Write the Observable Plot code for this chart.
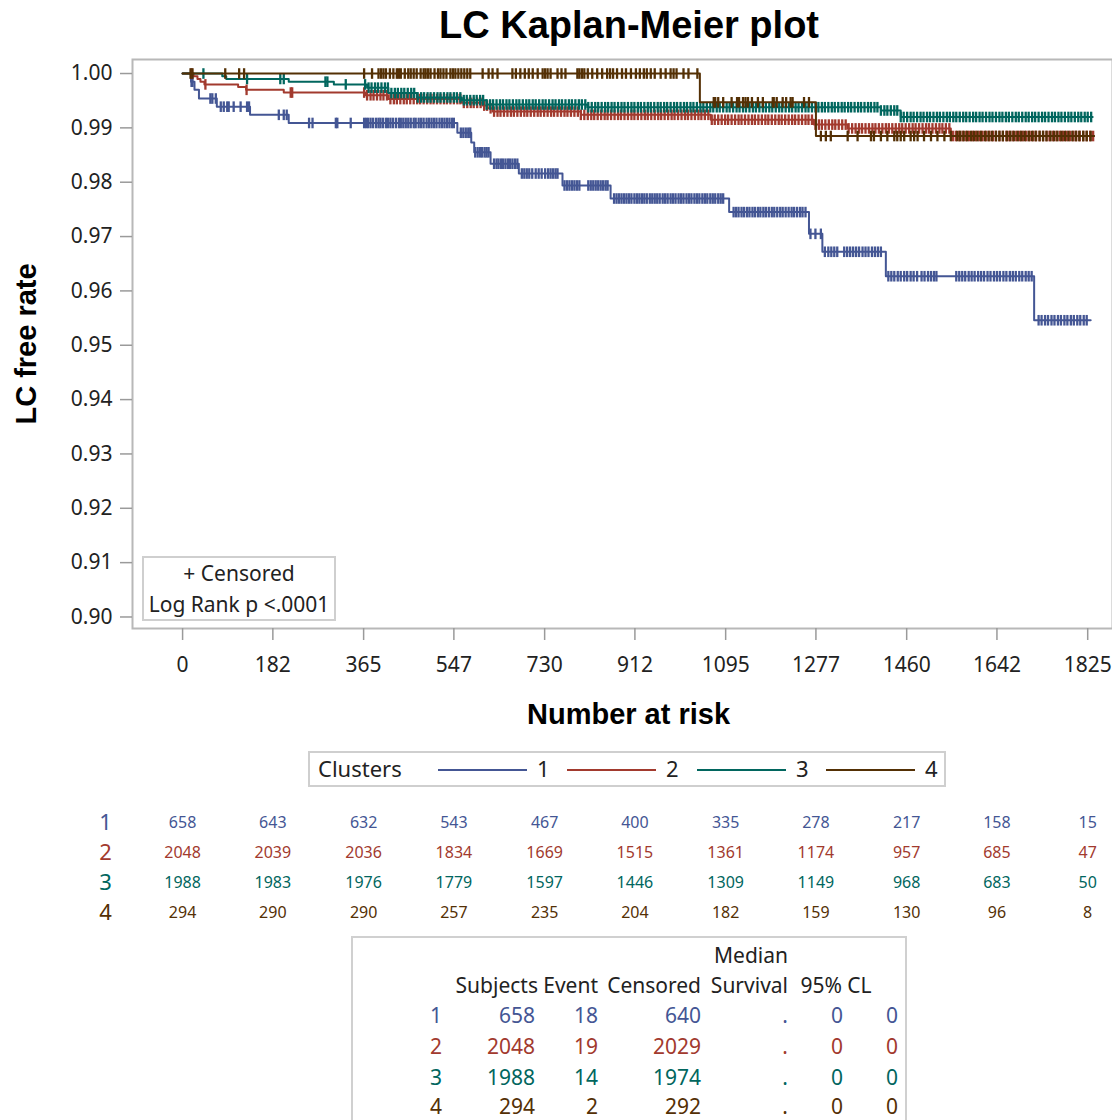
<!DOCTYPE html>
<html><head><meta charset="utf-8">
<script src="https://cdn.jsdelivr.net/npm/d3@7"></script>
<script src="https://cdn.jsdelivr.net/npm/@observablehq/plot@0.6"></script>
<style>
html,body{margin:0;padding:0;background:#fff;overflow:hidden;}
#root{position:relative;width:1112px;height:1120px;overflow:hidden;font-family:"Noto Sans",sans-serif;color:#222;}
.abs{position:absolute;white-space:nowrap;}
#root svg{max-width:none !important;}
</style></head><body><div id="root"></div>
<script>
// ---------- data ----------
const clusters = ["1","2","3","4"];
const colors = ["#445694","#A23A2E","#01665E","#543005"];
const xTicks = [0,182,365,547,730,912,1095,1277,1460,1642,1825];
const yTicks = [0.90,0.91,0.92,0.93,0.94,0.95,0.96,0.97,0.98,0.99,1.00];

// Kaplan-Meier steps [day, survival]; last entry = end of follow-up
const steps1 = [[0,1],[17,0.9985],[24,0.9970],[33,0.9954],[69,0.9939],[136,0.9924],[214,0.9909],[554,0.9891],[582,0.9873],[588,0.9855],[621,0.9834],[678,0.9816],[766,0.9794],[863,0.9770],[1102,0.9745],[1263,0.9705],[1290,0.9672],[1418,0.9627],[1717,0.9546],[1831,0.9546]];
const steps2 = [[0,1],[22,0.9995],[30,0.9990],[36,0.9985],[44,0.9980],[112,0.9975],[128,0.9970],[204,0.9965],[368,0.9960],[415,0.9953],[563,0.9946],[605,0.9941],[615,0.9936],[625,0.9930],[803,0.9924],[1065,0.9915],[1273,0.9906],[1341,0.9899],[1549,0.9885],[1837,0.9885]];
const steps3 = [[0,1],[80,0.9995],[88,0.9990],[214,0.9985],[305,0.9980],[372,0.9974],[415,0.9964],[473,0.9956],[563,0.9951],[613,0.9943],[816,0.9938],[1408,0.9932],[1448,0.9920],[1835,0.9920]];
const steps4 = [[0,1],[1043,0.9947],[1277,0.9885],[1838,0.9885]];

// censoring times (days)
const censor1 = [18,20,56,60,67,77,83,90,93,103,117,130,134,194,204,210,255,262,309,312,339,
366,370,374,379,384,390,395,399,404,410,414,419,424,430,436,440,445,450,455,460,466,470,476,481,486,492,497,502,507,512,518,523,528,533,538,543,547,
561,566,571,576,580,590,595,600,604,609,613,617,628,633,637,642,646,651,656,660,665,670,675,684,689,694,699,
705,712,718,724,731,737,742,747,752,756,770,775,780,785,790,795,800,818,823,828,833,838,843,848,853,857,
870,875,880,885,890,895,900,905,911,916,921,926,931,936,942,947,952,957,962,968,973,978,984,989,994,1000,1005,1010,1016,1021,1026,1032,1037,1042,1048,1053,1058,1064,1069,1074,1080,1085,1090,
1111,1116,1121,1127,1132,1138,1143,1149,1154,1160,1165,1171,1176,1182,1188,1193,1199,1205,1210,1216,1222,1228,1233,1239,1245,1250,1256,
1266,1276,1287,1295,1302,1308,1314,1320,1334,1340,1346,1352,1358,1364,1371,1377,1383,1390,1396,1402,1408,
1423,1429,1435,1442,1448,1455,1461,1468,1474,1481,1490,1496,1503,1509,1515,1520,
1560,1566,1572,1578,1585,1591,1597,1604,1610,1616,1623,1629,1636,1642,1648,1655,1661,1668,1674,1680,1687,1693,1700,1706,1712,
1726,1732,1739,1745,1752,1758,1765,1771,1778,1784,1791,1797,1804,1810,1817,1823];
const censor2 = [18,46,129,218,221,
366,372,379,385,392,399,405,412,419,426,432,439,446,452,459,466,473,479,486,493,500,506,513,520,527,533,540,547,554,560,567,574,581,587,594,601,608,614,621,628,635,641,648,655,662,668,675,682,689,695,702,709,716,722,729,736,743,749,756,763,770,776,783,790,797,803,810,817,824,830,837,844,851,857,864,871,878,884,891,898,905,911,918,925,932,938,945,952,959,965,972,979,986,992,999,1006,1013,1019,1026,1033,1040,1046,1053,1060,1067,1073,1080,1087,1094,1100,1107,1114,1121,1127,1134,1141,1148,1154,1161,1168,1175,1181,1188,1195,1202,1208,1215,1222,1229,1235,1242,1249,1256,1262,1269,1276,1283,1289,1296,1303,1310,1316,1323,1330,1337,1343,1350,1357,1364,1370,1377,1384,1391,1397,1404,1411,1418,1424,1431,1438,1445,1451,1458,1465,1472,1478,1485,1492,1499,1505,1512,1519,1526,1532,1539,1546,1553,1559,1566,1573,1580,1586,1593,1600,1607,1613,1620,1627,1634,1640,1647,1654,1661,1667,1674,1681,1688,1694,1701,1708,1715,1721,1728,1735,1742,1748,1755,1762,1769,1775,1782,1789,1796,1802,1809,1816,1823,1830,1836];
const censor3 = [42,130,197,204,288,292,329,
368,375,381,388,394,401,408,414,421,428,434,441,447,454,461,467,474,481,487,494,500,507,514,520,527,534,540,547,553,560,567,573,580,587,593,600,606,613,620,626,633,640,646,653,659,666,673,679,686,693,699,706,712,719,726,732,739,746,752,759,765,772,779,785,792,799,805,812,818,825,832,838,845,852,858,865,871,878,885,891,898,905,911,918,924,931,938,944,951,958,964,971,977,984,991,997,1004,1011,1017,1024,1030,1037,1044,1050,1057,1064,1070,1077,1083,1090,1097,1103,1110,1117,1123,1130,1136,1143,1150,1156,1163,1170,1176,1183,1189,1196,1203,1209,1216,1223,1229,1236,1242,1249,1256,1262,1269,1276,1282,1289,1295,1302,1309,1315,1322,1329,1335,1342,1348,1355,1362,1368,1375,1382,1388,1395,1401,1408,1415,1421,1428,1435,1441,1448,1454,1461,1468,1474,1481,1488,1494,1501,1507,1514,1521,1527,1534,1541,1547,1554,1560,1567,1574,1580,1587,1594,1600,1607,1613,1620,1627,1633,1640,1647,1653,1660,1666,1673,1680,1686,1693,1700,1706,1713,1719,1726,1733,1739,1746,1753,1759,1766,1772,1779,1786,1792,1799,1806,1812,1819,1825,1832];
const censor4 = [16,20,86,114,124,
366,382,395,400,405,410,418,425,432,436,440,448,455,460,466,472,480,486,490,495,500,508,515,520,526,532,540,545,550,556,562,568,574,580,605,617,625,635,665,672,681,690,698,706,716,726,731,736,742,756,764,772,796,800,805,810,817,826,836,846,856,862,868,876,886,894,904,914,922,930,936,944,952,964,974,984,990,996,1010,1020,1038,
1071,1074,1080,1090,1107,1118,1122,1130,1135,1140,1148,1160,1170,1190,1192,1198,1210,1217,1226,1230,1253,1263,
1287,1297,1307,1341,1361,1388,1394,1408,1421,1435,1441,1448,1455,1468,1475,1482,1495,1509,1522,1536,1549,
1562,1568,1575,1582,1590,1596,1603,1610,1618,1625,1632,1640,1647,1654,1662,1669,1676,1684,1691,1698,1706,1713,1720,1728,1735,1742,1750,1757,1764,1772,1779,1786,1794,1801,1808,1816,1823,1831];

// number at risk at xTicks
const atRisk1 = [658,643,632,543,467,400,335,278,217,158,15];
const atRisk2 = [2048,2039,2036,1834,1669,1515,1361,1174,957,685,47];
const atRisk3 = [1988,1983,1976,1779,1597,1446,1309,1149,968,683,50];
const atRisk4 = [294,290,290,257,235,204,182,159,130,96,8];

// summary table
const subjects = [658,2048,1988,294];
const events = [18,19,14,2];
const censoredN = [640,2029,1974,292];
const medianSurv = [".",".",".","."];
const clLower = [0,0,0,0];
const clUpper = [0,0,0,0];

// ---------- build ----------
const steps = [steps1,steps2,steps3,steps4];
const censors = [censor1,censor2,censor3,censor4];
const atRisk = [atRisk1,atRisk2,atRisk3,atRisk4];
const survAt = (st, t) => { let v = st[0][1]; for (const [tt, s] of st) { if (tt <= t) v = s; else break; } return v; };

const stepRows = clusters.map((c,i) => steps[i].map(([t,s]) => ({cluster:c, t, s})));
const censorRows = clusters.map((c,i) => censors[i].map(t => ({cluster:c, t, s: survAt(steps[i], t)})));
const riskRows = clusters.flatMap((c,i) => xTicks.map((t,j) => ({cluster:c, t, n: atRisk[i][j]})));

const vtick = {draw(ctx, size){ const r = Math.sqrt(size/Math.PI); ctx.moveTo(0,-r); ctx.lineTo(0,r); }};
const X_DOMAIN = [-101, 1875];
const Y_DOMAIN = [0.89788, 1.00258];
const colorScale = {domain: clusters, range: colors};

const root = document.getElementById("root");

const main = Plot.plot({
  width: 1120, height: 735,
  marginLeft: 132, marginRight: 8, marginTop: 59, marginBottom: 107,
  x: {domain: X_DOMAIN},
  y: {domain: Y_DOMAIN},
  color: colorScale,
  style: {fontFamily: "'Noto Sans', sans-serif", fontSize: "21px", color: "#222", background: "transparent", overflow: "visible"},
  marks: [
    Plot.frame({stroke: "#b8b8b8", strokeWidth: 2}),
    Plot.axisY(yTicks, {tickSize: 12, tickPadding: 8, tickFormat: d3.format(".2f"), stroke: "#9a9a9a", strokeWidth: 1.5, label: null, fill: "#222"}),
    Plot.axisX(xTicks, {tickSize: 12, tickPadding: 17, tickFormat: d => String(d), stroke: "#9a9a9a", strokeWidth: 1.5, label: null, fill: "#222"}),
    Plot.text(["LC free rate"], {frameAnchor: "left", dx: -106, rotate: -90, text: d => d, textAnchor: "middle", lineAnchor: "middle", fontSize: 29, fontWeight: "bold", fontFamily: "'Liberation Sans', Arial, sans-serif", fill: "#000"}),
    Plot.text(["Number at risk"], {frameAnchor: "bottom", dx: 6, dy: 95, text: d => d, textAnchor: "middle", lineAnchor: "bottom", fontSize: 29, fontWeight: "bold", fontFamily: "'Liberation Sans', Arial, sans-serif", fill: "#000"}),
    ...clusters.flatMap((c,i) => [
      Plot.line(stepRows[i], {x: "t", y: "s", curve: "step-after", stroke: "cluster", strokeWidth: 2}),
      Plot.dot(censorRows[i], {x: "t", y: "s", symbol: vtick, r: 5.3, stroke: "cluster", fill: "none", strokeWidth: 2.3})
    ])
  ]
});
main.style.position = "absolute"; main.style.left = "0px"; main.style.top = "0px"; main.style.maxWidth = "none";
root.appendChild(main);

// title
const title = document.createElement("div");
title.className = "abs";
title.textContent = "LC Kaplan-Meier plot";
Object.assign(title.style, {left: "329px", width: "600px", top: "4px", textAlign: "center", fontFamily: "'Liberation Sans', Arial, sans-serif", fontWeight: "bold", fontSize: "38px", lineHeight: "42px", color: "#000"});
root.appendChild(title);

// inset legend
const inset = document.createElement("div");
inset.className = "abs";
Object.assign(inset.style, {left: "142px", top: "556px", width: "190px", height: "61px", border: "2px solid #cfcfcf", background: "#fff", textAlign: "center", fontSize: "21px", lineHeight: "31px", color: "#222"});
inset.innerHTML = "<div>+ Censored</div><div>Log Rank p &lt;.0001</div>";
root.appendChild(inset);

// cluster legend
const leg = document.createElement("div");
leg.className = "abs";
Object.assign(leg.style, {left: "308px", top: "751px", width: "634px", height: "32px", border: "2px solid #cfcfcf", background: "#fff"});
root.appendChild(leg);
function addText(parent, txt, left, top, size, color, extra) {
  const d = document.createElement("div");
  d.className = "abs"; d.textContent = txt;
  Object.assign(d.style, {left: left + "px", top: top + "px", fontSize: size + "px", lineHeight: "30px", color}, extra || {});
  parent.appendChild(d);
  return d;
}
addText(leg, "Clusters", 8, 0, 22, "#222");
const legX = [128, 257, 387, 516];
clusters.forEach((c, i) => {
  const ln = document.createElement("div");
  ln.className = "abs";
  Object.assign(ln.style, {left: legX[i] + "px", top: "16px", width: "89px", height: "2px", background: colors[i]});
  leg.appendChild(ln);
  addText(leg, c, legX[i] + 99, 0, 22, "#222");
});

// number-at-risk table (shares the x scale)
const risk = Plot.plot({
  width: 1120, height: 130,
  marginLeft: 132, marginRight: 8, marginTop: 7, marginBottom: 2,
  x: {domain: X_DOMAIN, axis: null},
  y: {domain: clusters, type: "band", padding: 0, axis: null},
  color: colorScale,
  style: {fontFamily: "'Noto Sans', sans-serif", background: "transparent", overflow: "visible"},
  marks: [
    Plot.text(riskRows, {x: "t", y: "cluster", text: d => String(d.n), fill: "cluster", fontSize: 16}),
    Plot.text(clusters, {y: d => d, text: d => d, fill: d => d, frameAnchor: "left", dx: -27, textAnchor: "middle", fontSize: 22})
  ]
});
risk.style.position = "absolute"; risk.style.left = "0px"; risk.style.top = "799px"; risk.style.maxWidth = "none";
root.appendChild(risk);

// summary table
const box = document.createElement("div");
box.className = "abs";
Object.assign(box.style, {left: "351px", top: "936px", width: "552px", height: "220px", border: "2px solid #d0d0d0", background: "#fff"});
root.appendChild(box);
function cell(txt, xRight, yCenter, color, align) {
  const d = document.createElement("div");
  d.className = "abs"; d.textContent = txt;
  const w = 200;
  const left = align === "center" ? xRight - w / 2 : xRight - w;
  Object.assign(d.style, {left: left + "px", width: w + "px", top: (yCenter - 12) + "px", textAlign: align || "right", fontSize: "21px", lineHeight: "24px", color});
  root.appendChild(d);
}
cell("Median", 788, 955, "#222");
cell("Subjects", 538, 985, "#222");
cell("Event", 598, 985, "#222");
cell("Censored", 701, 985, "#222");
cell("Survival", 788, 985, "#222");
cell("95% CL", 836, 985, "#222", "center");
const rowY = [1015, 1046, 1077, 1106];
clusters.forEach((c, i) => {
  const col = colors[i];
  cell(c, 436, rowY[i], col, "center");
  cell(String(subjects[i]), 535, rowY[i], col);
  cell(String(events[i]), 598, rowY[i], col);
  cell(String(censoredN[i]), 701, rowY[i], col);
  cell(medianSurv[i], 788, rowY[i], col);
  cell(String(clLower[i]), 843, rowY[i], col);
  cell(String(clUpper[i]), 898, rowY[i], col);
});
</script>
</body></html>
